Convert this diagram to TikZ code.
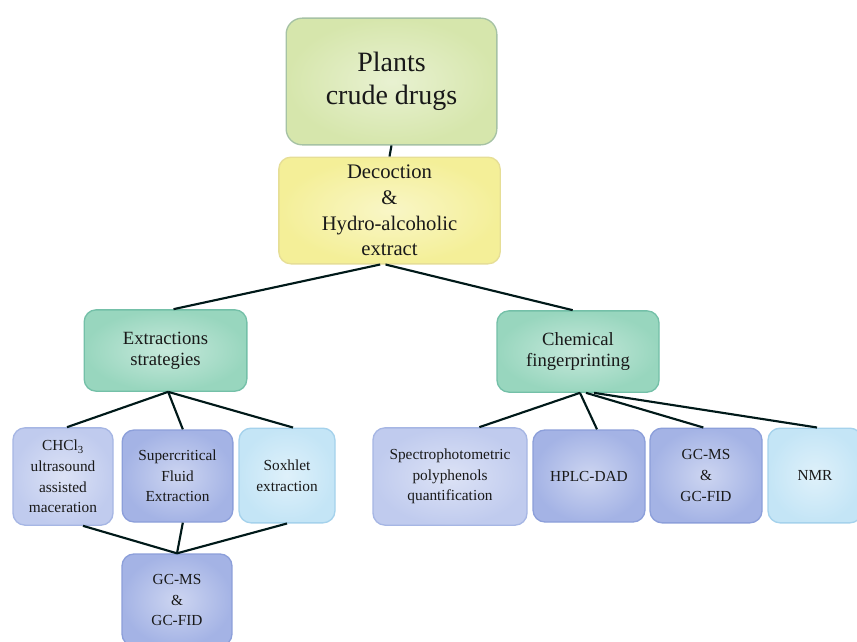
\documentclass[tikz,border=0pt]{standalone}
\usepackage{fontspec}
\setmainfont{Liberation Serif}
\begin{document}
\begin{tikzpicture}[x=0.75pt,y=-0.75pt,
  box/.style={draw,rounded corners=9pt,line width=1pt,align=center,inner sep=2pt,text=black!90},
  conn/.style={draw=black!80!teal,line width=1.6pt},
  big/.style={font=\fontsize{21}{24.5}\selectfont},
  mid/.style={font=\fontsize{15.5}{19.2}\selectfont},
  sec/.style={font=\fontsize{14}{16}\selectfont},
  small/.style={font=\fontsize{11.5}{15.5}\selectfont},
  sh/.style={shade,inner color=#1!55!white,outer color=#1}]
\definecolor{cplant}{HTML}{D6E6AC}\definecolor{bplant}{HTML}{A6C2A4}
\definecolor{cdec}{HTML}{F4EF98}\definecolor{bdec}{HTML}{E6DE96}
\definecolor{cteal}{HTML}{98D6BE}\definecolor{bteal}{HTML}{74C0A8}
\definecolor{clav}{HTML}{C0CBEE}\definecolor{blav}{HTML}{A6B6E4}
\definecolor{cblue}{HTML}{A4B3E5}\definecolor{bblue}{HTML}{8C9FDA}
\definecolor{ccyan}{HTML}{C4E5F6}\definecolor{bcyan}{HTML}{A5D2EC}
\useasboundingbox[fill=white] (0,0) rectangle (857,642);
\node[box,big,sh=cplant,draw=bplant,minimum width=158pt,minimum height=95pt,rounded corners=12pt] (plant) at (391.5,81.5) {Plants\\crude drugs};
\node[box,mid,sh=cdec,draw=bdec,minimum width=166pt,minimum height=80pt] (dec) at (389.5,210.5) {Decoction\\\&\\Hydro-alcoholic\\extract};
\node[box,sec,sh=cteal,draw=bteal,minimum width=122pt,minimum height=61pt] (ext) at (165.5,350.5) {Extractions\\strategies};
\node[box,sec,sh=cteal,draw=bteal,minimum width=121.5pt,minimum height=61pt] (chem) at (578,351.5) {Chemical\\fingerprinting};
\node[box,small,sh=clav,draw=blav,minimum width=75pt,minimum height=73pt] (chcl) at (63,476.5) {CHCl\textsubscript{3}\\ultrasound\\assisted\\maceration};
\node[box,small,sh=cblue,draw=bblue,minimum width=83pt,minimum height=69pt] (sfe) at (177.5,476) {Supercritical\\Fluid\\Extraction};
\node[box,small,sh=ccyan,draw=bcyan,minimum width=72pt,minimum height=71pt] (sox) at (287,475.5) {Soxhlet\\extraction};
\node[box,small,sh=cblue,draw=bblue,minimum width=82.5pt,minimum height=69pt] (gcl) at (177,600) {GC-MS\\\&\\GC-FID};
\node[box,small,sh=clav,draw=blav,minimum width=115.5pt,minimum height=73pt] (spec) at (450,476.5) {Spectrophotometric\\polyphenols\\quantification};
\node[box,small,sh=cblue,draw=bblue,minimum width=84pt,minimum height=69pt] (hplc) at (589,476) {HPLC-DAD};
\node[box,small,sh=cblue,draw=bblue,minimum width=84pt,minimum height=71pt] (gcr) at (706,475.5) {GC-MS\\\&\\GC-FID};
\node[box,small,sh=ccyan,draw=bcyan,minimum width=70.5pt,minimum height=71pt] (nmr) at (815,475.5) {NMR};
% connectors
\draw[conn] (plant.south) -- (dec.north);
\draw[conn] ([xshift=-7pt]dec.south) -- ([xshift=6pt]ext.north);
\draw[conn] ([xshift=-3pt]dec.south) -- ([xshift=-4pt]chem.north);
\draw[conn] ([xshift=2pt]ext.south) -- ([xshift=3pt]chcl.north);
\draw[conn] ([xshift=2pt]ext.south) -- ([xshift=4pt]sfe.north);
\draw[conn] ([xshift=2pt]ext.south) -- ([xshift=4.5pt]sox.north);
\draw[conn] ([xshift=15pt]chcl.south) -- (gcl.north);
\draw[conn] ([xshift=4pt]sfe.south) -- (gcl.north);
\draw[conn] (sox.south) -- (gcl.north);
\draw[conn] ([xshift=1.5pt]chem.south) -- ([xshift=22pt]spec.north);
\draw[conn] ([xshift=1.5pt]chem.south) -- ([xshift=6pt]hplc.north);
\draw[conn] ([xshift=6pt]chem.south) -- ([xshift=-2pt]gcr.north);
\draw[conn] ([xshift=12pt]chem.south) -- ([xshift=1.5pt]nmr.north);
\end{tikzpicture}
\end{document}
